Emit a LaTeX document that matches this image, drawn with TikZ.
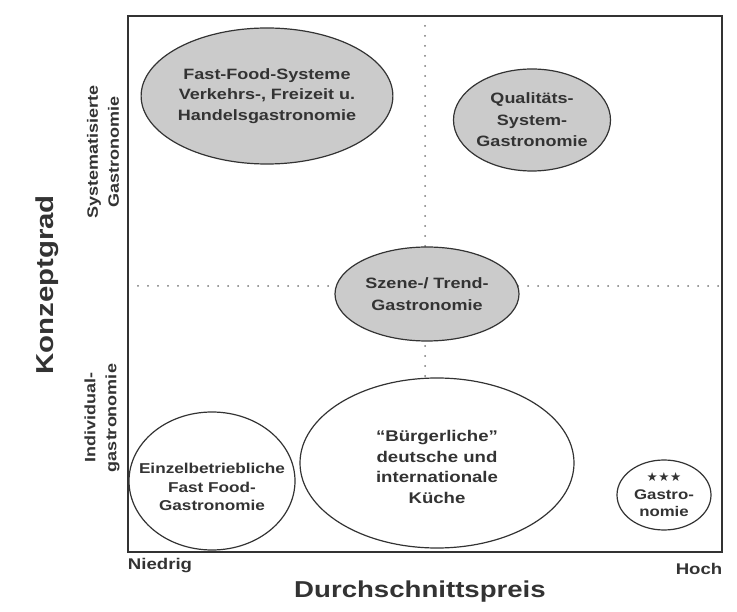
\documentclass[tikz,border=0pt]{standalone}
\usepackage{fontspec}
\setmainfont{Liberation Sans}[FakeStretch=1.2]
\newfontfamily\symfont{DejaVu Sans}
\usetikzlibrary{shapes.geometric}
\definecolor{ink}{HTML}{333333}
\definecolor{shade}{HTML}{CBCBCB}
\definecolor{dotc}{HTML}{777777}
\begin{document}
\begin{tikzpicture}[x=1pt,y=-1pt,
  every node/.style={text=ink, font=\bfseries},
  blob/.style={ellipse, draw=ink, line width=1.2pt, inner sep=0pt, align=center},
  grayblob/.style={blob, fill=shade},
  whiteblob/.style={blob, fill=white},
  gridline/.style={draw=dotc, line width=2pt, line cap=round, dash pattern=on 0pt off 10pt},
  txt/.style={align=center, inner sep=0pt}]
\useasboundingbox (0,0) rectangle (737,612);
% axes frame
\coordinate (tl) at (128,16);
\coordinate (br) at (722,552);
\coordinate (vtop) at (425,16);
\coordinate (vbot) at (425,552);
\coordinate (hl) at (128,286);
\coordinate (hr) at (722,286);
\draw[gridline] (vtop) -- (vbot);
\draw[gridline] (hl) -- (hr);
\draw[ink, line width=1.5pt] (tl) rectangle (br);
% ellipses
\node[grayblob, minimum width=232pt, minimum height=136pt,
  font=\bfseries\fontsize{15}{20.5}\selectfont] (ff) at (267,96)
  {Fast-Food-Systeme\\Verkehrs-, Freizeit u.\\Handelsgastronomie};
\node[grayblob, minimum width=142pt, minimum height=102pt,
  font=\bfseries\fontsize{15}{21.5}\selectfont] (qs) at (532,120)
  {Qualitäts-\\System-\\Gastronomie};
\node[grayblob, minimum width=184pt, minimum height=94pt,
  font=\bfseries\fontsize{15}{22}\selectfont] (sz) at (427,294)
  {Szene-/ Trend-\\Gastronomie};
\node[whiteblob, minimum width=166pt, minimum height=138pt] (eb) at (212,481) {};
\node[txt, font=\bfseries\fontsize{14.3}{18.5}\selectfont] (ebt) at ([yshift=-6pt]eb.center)
  {Einzelbetriebliche\\Fast Food-\\Gastronomie};
\node[whiteblob, minimum width=274pt, minimum height=170pt] (bk) at (437,463) {};
\node[txt, font=\bfseries\fontsize{15.5}{20.5}\selectfont] (bkt) at ([yshift=-4pt]bk.center)
  {“Bürgerliche”\\deutsche und\\internationale\\Küche};
\node[whiteblob, minimum width=94pt, minimum height=70pt,
  font=\bfseries\fontsize{14}{17.5}\selectfont] (sg) at (664,495)
  {{\symfont\fontsize{12.5}{14}\selectfont ★\hspace{0.5pt}★\hspace{0.5pt}★}\\Gastro-\\nomie};
% axis labels
\node[txt, rotate=90, font=\bfseries\fontsize{15}{21}\selectfont] (sys) at (103,152)
  {Systematisierte\\Gastronomie};
\node[txt, rotate=90, font=\bfseries\fontsize{15}{21}\selectfont] (ind) at (102,418)
  {Individual-\\gastronomie};
\node[txt, rotate=90, font=\bfseries\fontsize{24.5}{28}\selectfont] (kg) at (47,285) {Konzeptgrad};
\node[txt, font=\bfseries\fontsize{15.5}{18}\selectfont] (nd) at (160,566) {Niedrig};
\node[txt, font=\bfseries\fontsize{15.5}{18}\selectfont] (hc) at (699,569) {Hoch};
\node[txt, font=\bfseries\fontsize{23}{27}\selectfont] (dp) at (420,592) {Durchschnittspreis};
\end{tikzpicture}
\end{document}
